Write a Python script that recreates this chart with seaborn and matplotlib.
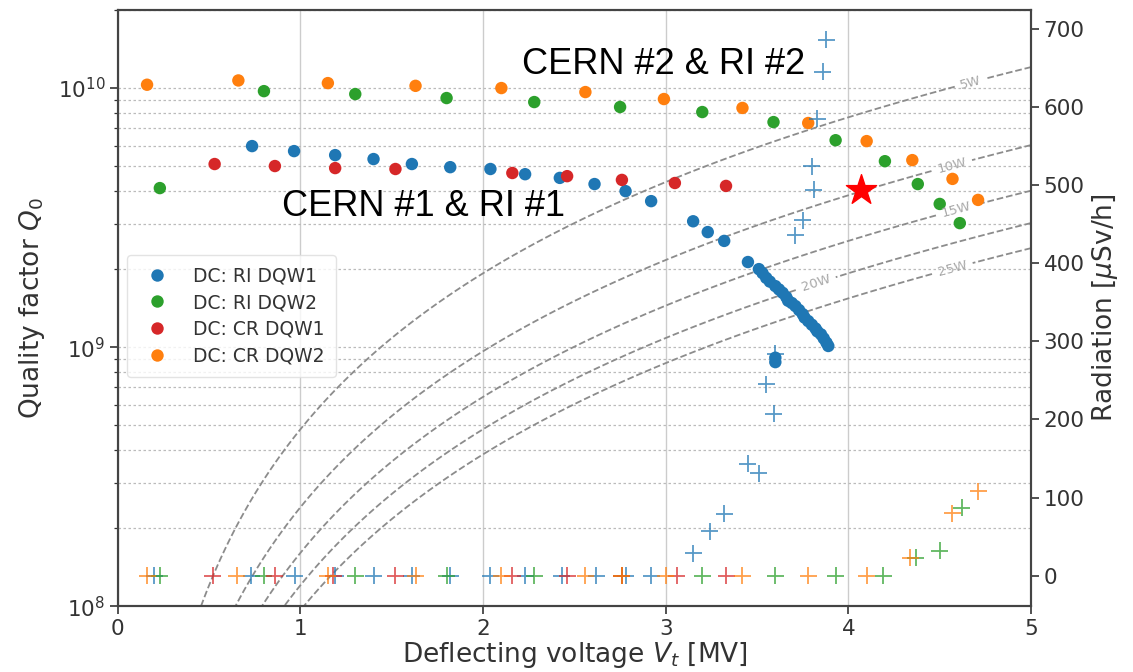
import numpy as np
import pandas as pd
import seaborn as sns
import matplotlib.pyplot as plt

# Quality factor Q0 vs deflecting voltage [MV]
ri1_v = [0.735, 0.965, 1.19, 1.40, 1.61, 1.82, 2.04, 2.23, 2.42, 2.61, 2.78, 2.92,
         3.15, 3.23, 3.32, 3.45, 3.51, 3.53, 3.55, 3.57, 3.60, 3.62, 3.64, 3.66,
         3.67, 3.69, 3.71, 3.73, 3.75, 3.76, 3.78, 3.80, 3.82, 3.83, 3.85, 3.865,
         3.88, 3.89, 3.60, 3.60]
ri1_q = [5.97e9, 5.71e9, 5.51e9, 5.32e9, 5.09e9, 4.95e9, 4.87e9, 4.65e9, 4.50e9, 4.26e9,
         4.00e9, 3.66e9, 3.06e9, 2.78e9, 2.57e9, 2.13e9, 2.00e9, 1.93e9, 1.85e9, 1.79e9,
         1.72e9, 1.67e9, 1.62e9, 1.56e9, 1.51e9, 1.48e9, 1.44e9, 1.39e9, 1.34e9, 1.30e9,
         1.26e9, 1.22e9, 1.18e9, 1.15e9, 1.12e9, 1.08e9, 1.04e9, 1.01e9, 9.1e8, 8.75e8]

ri2_v = [0.23, 0.80, 1.30, 1.80, 2.28, 2.75, 3.20, 3.59, 3.93, 4.20, 4.38, 4.50, 4.61]
ri2_q = [4.11e9, 9.73e9, 9.48e9, 9.15e9, 8.83e9, 8.45e9, 8.08e9, 7.39e9, 6.29e9,
         5.22e9, 4.26e9, 3.57e9, 3.01e9]

cr1_v = [0.53, 0.86, 1.19, 1.52, 2.16, 2.46, 2.76, 3.05, 3.33]
cr1_q = [5.09e9, 5.00e9, 4.91e9, 4.87e9, 4.70e9, 4.57e9, 4.42e9, 4.30e9, 4.19e9]

cr2_v = [0.16, 0.66, 1.15, 1.63, 2.10, 2.56, 2.99, 3.42, 3.78, 4.10, 4.35, 4.57, 4.71]
cr2_q = [1.03e10, 1.07e10, 1.045e10, 1.02e10, 1.0e10, 9.65e9, 9.07e9, 8.38e9, 7.33e9,
         6.24e9, 5.27e9, 4.46e9, 3.70e9]

# Radiation [uSv/h] vs deflecting voltage [MV]
ri1_rv = [0.20, 0.73, 0.97, 1.19, 1.40, 1.61, 1.82, 2.04, 2.23, 2.43, 2.62, 2.78, 2.92,
          3.15, 3.24, 3.32, 3.45, 3.51, 3.55, 3.59, 3.60, 3.71, 3.75, 3.81, 3.80, 3.83,
          3.86, 3.88]
ri1_r = [0, 0, 0, 0, 0, 0, 0, 0, 0, 0, 0, 0, 0,
         29, 57, 79, 143, 131, 245, 207, 284, 436, 455, 494, 524, 585, 645, 686]

ri2_rv = [0.23, 0.80, 1.30, 1.80, 2.28, 2.76, 3.20, 3.60, 3.93, 4.19, 4.37, 4.50, 4.62]
ri2_r = [0, 0, 0, 0, 0, 0, 0, 0, 0, 0, 23, 32, 87]

cr1_rv = [0.52, 0.86, 1.18, 1.52, 2.16, 2.46, 2.76, 3.06, 3.33]
cr1_r = [0, 0, 0, 0, 0, 0, 0, 0, 0]

cr2_rv = [0.16, 0.65, 1.15, 1.63, 2.10, 2.56, 2.76, 3.00, 3.42, 3.78, 4.10, 4.34, 4.57, 4.71]
cr2_r = [0, 0, 0, 0, 0, 0, 0, 0, 0, 0, 0, 23, 80, 108]

labels = ["DC: RI DQW1", "DC: RI DQW2", "DC: CR DQW1", "DC: CR DQW2"]
colors = ["#1f77b4", "#2ca02c", "#d62728", "#ff7f0e"]

# iso-power lines P = V^2 / (R/Q * Q0)
power_levels = [5, 10, 15, 20, 25]
r_over_q = 415.0

q_df = pd.concat([
    pd.DataFrame({"V": ri1_v, "Q0": ri1_q, "cavity": labels[0]}),
    pd.DataFrame({"V": ri2_v, "Q0": ri2_q, "cavity": labels[1]}),
    pd.DataFrame({"V": cr1_v, "Q0": cr1_q, "cavity": labels[2]}),
    pd.DataFrame({"V": cr2_v, "Q0": cr2_q, "cavity": labels[3]}),
])
r_df = pd.concat([
    pd.DataFrame({"V": ri1_rv, "rad": ri1_r, "cavity": labels[0]}),
    pd.DataFrame({"V": ri2_rv, "rad": ri2_r, "cavity": labels[1]}),
    pd.DataFrame({"V": cr1_rv, "rad": cr1_r, "cavity": labels[2]}),
    pd.DataFrame({"V": cr2_rv, "rad": cr2_r, "cavity": labels[3]}),
])
palette = dict(zip(labels, colors))

sns.set_style("ticks")
plt.rcParams["font.family"] = ["DejaVu Sans"]

fig, ax = plt.subplots(figsize=(11.33, 6.72), dpi=100)
fig.subplots_adjust(left=0.104, right=0.910, top=0.985, bottom=0.098)

ax.set_yscale("log")
ax.set_xlim(0, 5)
ax.set_ylim(1e8, 2e10)

# grid
ax.grid(True, axis="x", which="major", color="#cccccc", lw=1.0, ls="-")
ax.grid(True, axis="y", which="both", color="#bbbbbb", lw=0.9, ls=(0, (2, 2)))
ax.set_axisbelow(True)

# iso-power contours
vv = np.linspace(0.01, 5, 500)
qq = np.logspace(8, 10.4, 500)
VV, QQ = np.meshgrid(vv, qq)
PP = (VV * 1e6) ** 2 / (r_over_q * QQ)
cs = ax.contour(VV, QQ, PP, levels=power_levels, colors="#8c8c8c",
                linestyles="--", linewidths=1.3)
lbl_pos = [(4.67, 1.06e10), (4.57, 4.9e9), (4.59, 3.4e9), (3.82, 1.77e9), (4.57, 2.0e9)]
ax.clabel(cs, fmt={p: f"{p}W" for p in power_levels}, manual=lbl_pos,
          fontsize=9.5, colors="#a8a8a8", inline=True, inline_spacing=6)

sns.scatterplot(data=q_df, x="V", y="Q0", hue="cavity", palette=palette, s=80,
                edgecolor="none", ax=ax, zorder=3)

ax2 = ax.twinx()
sns.scatterplot(data=r_df, x="V", y="rad", hue="cavity", palette=palette, marker="+",
                s=150, linewidth=1.3, alpha=0.75, legend=False, ax=ax2, zorder=3)
ax2.scatter([4.07], [494], marker="*", s=520, color="red", zorder=5)
ax2.set_ylim(-39, 724)
ax2.set_yticks(range(0, 701, 100))
ax2.set_xlim(0, 5)

ax.set_xlabel("Deflecting voltage $V_t$ [MV]", fontsize=19, color="#333333", labelpad=1)
ax.set_ylabel("Quality factor $Q_0$", fontsize=19, color="#333333", labelpad=8)
ax2.set_ylabel("Radiation [$\\mu$Sv/h]", fontsize=19, color="#333333")

for a in (ax, ax2):
    a.tick_params(axis="both", which="major", labelsize=15.5, colors="#333333",
                  length=6, width=1.2, pad=3)
    a.tick_params(axis="y", which="minor", length=3, width=0.9, colors="#333333")
    for s in a.spines.values():
        s.set_color("#444444")
        s.set_linewidth(1.5)

leg = ax.legend(loc="upper left", bbox_to_anchor=(0.0, 0.605), fontsize=13.5,
                frameon=True, handletextpad=0.9, labelspacing=0.42, borderpad=0.6,
                markerscale=1.0)
leg.get_frame().set_edgecolor("#dddddd")
for t in leg.get_texts():
    t.set_color("#333333")

ax.text(2.99, 1.23e10, "CERN #2 & RI #2", fontsize=26, ha="center", va="center",
        color="black", family=["Liberation Sans", "DejaVu Sans"], zorder=6)
ax.text(1.675, 3.5e9, "CERN #1 & RI #1", fontsize=26, ha="center", va="center",
        color="black", family=["Liberation Sans", "DejaVu Sans"], zorder=6)

fig.savefig("out.png", dpi=100)
